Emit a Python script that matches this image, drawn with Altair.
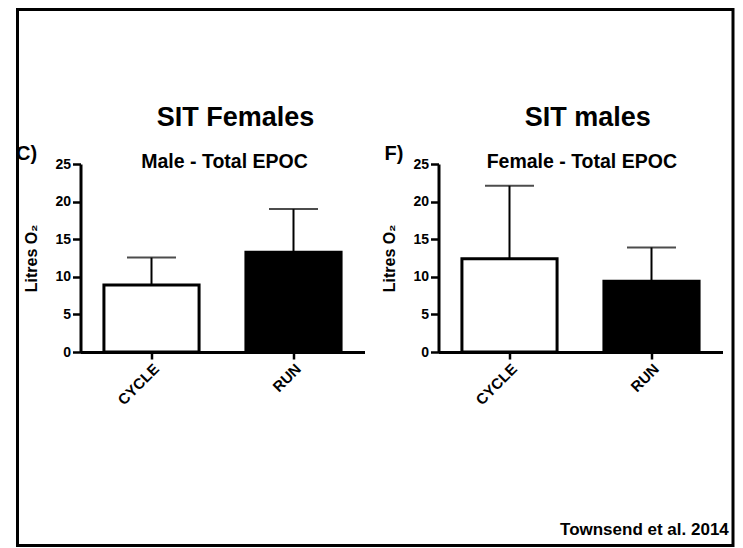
import altair as alt
import pandas as pd

FONT = "Liberation Sans"

categories = ["CYCLE", "RUN"]
left_means = [8.9, 13.25]
left_upper = [12.55, 19.0]
right_means = [12.4, 9.4]
right_upper = [22.1, 13.9]

y_ticks = [0, 5, 10, 15, 20, 25]
y_title = "Litres O\u2082"
group_titles = ["SIT Females", "SIT males"]
panel_titles = ["Male - Total EPOC", "Female - Total EPOC"]
panel_letters = ["C)", "F)"]
source_note = ["Townsend et al. 2014"]

W, H = 284, 188

X_AXIS = alt.Axis(title=None, labelAngle=315, labelFont=FONT,
                  labelFontSize=15, labelFontWeight="bold", labelColor="black",
                  domainColor="black", domainWidth=3, tickColor="black",
                  tickWidth=2.5, tickSize=7, labelPadding=2)
Y_AXIS = alt.Axis(values=y_ticks, title=y_title, grid=False, labelOverlap=False,
                  labelFont=FONT, labelFontSize=14, labelFontWeight="bold",
                  labelColor="black", domainColor="black", domainWidth=3,
                  tickColor="black", tickWidth=2.5, tickSize=8, labelPadding=2,
                  titleFont=FONT, titleFontSize=16, titleFontWeight="bold",
                  titleColor="black", titlePadding=15)
X_SCALE = alt.Scale(paddingInner=0.33, paddingOuter=0.165)
Y_SCALE = alt.Scale(domain=[0, 25], nice=False)


def xenc():
    return alt.X("cat:N", sort=categories, scale=X_SCALE, axis=X_AXIS)


def yenc(field):
    return alt.Y(field, type="quantitative", scale=Y_SCALE, axis=Y_AXIS, title=y_title)


def text_layer(label, x, y, size, align="center"):
    df = pd.DataFrame({"label": [label]})
    return alt.Chart(df).mark_text(
        font=FONT, fontSize=size, fontWeight="bold", color="black",
        align=align, baseline="alphabetic"
    ).encode(x=alt.value(x), y=alt.value(y), text="label:N")


def panel(means, upper, group_title, title, letter, letter_x, title_x, group_x, extra=None):
    df = pd.DataFrame({"cat": categories, "mean": means, "upper": upper})
    base = alt.Chart(df)
    bars = base.mark_bar(stroke="black", strokeWidth=3).encode(
        x=xenc(), y=yenc("mean"),
        fill=alt.Fill("cat:N", scale=alt.Scale(domain=categories, range=["white", "black"]),
                      legend=None),
    )
    whisker = base.mark_rule(color="black", strokeWidth=2).encode(
        x=xenc(), y=yenc("mean"), y2="upper:Q")
    cap = base.mark_tick(color="black", orient="horizontal", size=49, thickness=2).encode(
        x=xenc(), y=yenc("upper"))
    layers = [bars, whisker, cap,
              text_layer(group_title, group_x, -38, 27),
              text_layer(title, title_x, 4.3, 19.5),
              text_layer(letter, letter_x, -4.5, 20, align="right")]
    if extra:
        layers += extra
    return alt.layer(*layers).properties(width=W, height=H)


frame = alt.Chart(pd.DataFrame({"f": [0]})).mark_rect(
    fillOpacity=0, stroke="black", strokeWidth=3
).encode(x=alt.value(-63), x2=alt.value(652.5), y=alt.value(-154.5), y2=alt.value(381.5))

note = text_layer(source_note[0], 648.3, 370.7, 17, align="right")

left = panel(left_means, left_upper, group_titles[0], panel_titles[0], panel_letters[0],
             -43.3, 144, 155, extra=[frame, note])
right = panel(right_means, right_upper, group_titles[1], panel_titles[1], panel_letters[1],
              -35, 143.3, 149.2)

chart = alt.HConcatChart(hconcat=[left, right], spacing=74, bounds="flush").properties(
    padding={"left": 7.5, "top": 0, "right": 0, "bottom": 0}
).configure_view(strokeWidth=0)

chart.save("out.html", embed_options={"renderer": "svg", "actions": False})
